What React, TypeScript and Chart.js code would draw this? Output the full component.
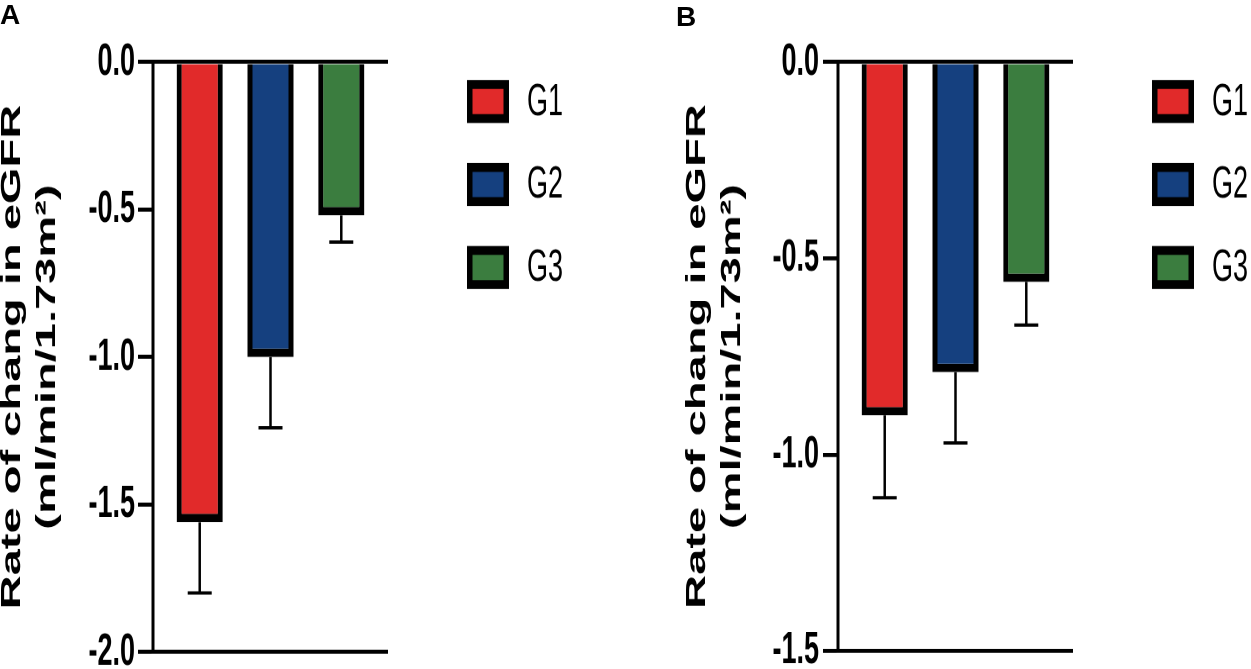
import React, { useEffect, useRef } from 'react';
import { Chart, registerables } from 'chart.js';

Chart.register(...registerables);

// ---- data ----
const groups = ['G1', 'G2', 'G3'];
const groupColors = ['#E12A2A', '#15407F', '#3B7D3F'];

const valuesA = [-1.56, -1.0, -0.52];
const errorsA = [0.24, 0.24, 0.09];
const ticksA = [0, -0.5, -1.0, -1.5, -2.0];

const valuesB = [-0.9, -0.79, -0.56];
const errorsB = [0.21, 0.18, 0.11];
const ticksB = [0, -0.5, -1.0, -1.5];

const axisTitle = ['Rate of chang in eGFR', '(ml/min/1.73m²)'];
const panelLetters = ['A', 'B'];

// ---- layout / style ----
const H = 398; // logical canvas height
const STRETCH = 669 / H; // vertical stretch of the original figure
const FONT = "'Liberation Sans', Arial, sans-serif";

type PanelProps = {
  values: number[];
  errors: number[];
  ticks: number[];
  left: number;
  width: number;
  axisX: number;
  plotRight: number;
  padL: number;
  titlePad: number;
  tickPad: number;
};

function Panel(props: PanelProps) {
  const ref = useRef<HTMLCanvasElement>(null);
  useEffect(() => {
    const { values, errors, ticks, width, axisX, plotRight, padL, titlePad, tickPad } = props;
    const yMin = ticks[ticks.length - 1];
    const yMax = ticks[0];

    const errorBars = {
      id: 'errorBars',
      afterDatasetsDraw(chart: any) {
        const ctx = chart.ctx;
        const xs = chart.scales.x;
        const ys = chart.scales.y;
        ctx.save();
        ctx.strokeStyle = '#000';
        values.forEach((v, i) => {
          const x = xs.getPixelForValue(i + 1);
          const y0 = ys.getPixelForValue(v);
          const y1 = ys.getPixelForValue(v - errors[i]);
          ctx.lineWidth = 2.5;
          ctx.beginPath();
          ctx.moveTo(x, y0);
          ctx.lineTo(x, y1);
          ctx.stroke();
          ctx.lineWidth = 2;
          ctx.beginPath();
          ctx.moveTo(x - 12, y1);
          ctx.lineTo(x + 12, y1);
          ctx.stroke();
        });
        ctx.restore();
      },
    };

    const legendBoxes = {
      id: 'legendBoxes',
      afterDraw(chart: any) {
        const ctx = chart.ctx;
        const area = chart.chartArea;
        const boxLeft = area.right + 79;
        const boxW = 42;
        const boxH = 43 / STRETCH;
        const firstTop = area.top + 10.7;
        const step = 83 / STRETCH;
        const bw = 5.5;
        const bh = 5.3;
        ctx.save();
        groups.forEach((g, i) => {
          const top = firstTop + i * step;
          ctx.fillStyle = '#000';
          ctx.fillRect(boxLeft, top, boxW, boxH);
          ctx.fillStyle = groupColors[i];
          ctx.fillRect(boxLeft + bw, top + bh, boxW - 2 * bw, boxH - 2 * bh);
          ctx.fillStyle = '#000';
          ctx.font = `27px ${FONT}`;
          ctx.textBaseline = 'middle';
          ctx.textAlign = 'left';
          ctx.fillText(g, boxLeft + 60, top + boxH / 2 + 0.5);
        });
        ctx.restore();
      },
    };

    const chart = new Chart(ref.current as HTMLCanvasElement, {
      type: 'bar',
      data: {
        datasets: [
          {
            label: 'groups',
            data: values.map((v, i) => ({ x: i + 1, y: v })),
            backgroundColor: groupColors,
            borderColor: '#000',
            borderWidth: 5,
            borderSkipped: 'start',
            barPercentage: 0.65,
            categoryPercentage: 1,
          } as any,
        ],
      },
      options: {
        responsive: false,
        animation: false,
        devicePixelRatio: 2,
        events: [],
        layout: {
          padding: { left: padL, right: width - plotRight, top: 62 / STRETCH, bottom: H - 652 / STRETCH },
        },
        plugins: {
          legend: { display: false },
          tooltip: { enabled: false },
          title: { display: false },
        },
        scales: {
          x: {
            type: 'linear',
            display: false,
            offset: false,
            grid: { offset: false },
            min: 1 - 0.66,
            max: groups.length + 0.66,
            afterBuildTicks: (s: any) => {
              s.ticks = groups.map((_, i) => ({ value: i + 1 }));
            },
          },
          y: {
            type: 'linear',
            min: yMin,
            max: yMax,
            z: 1,
            afterFit: (s: any) => {
              s.width = axisX - padL;
            },
            afterBuildTicks: (s: any) => {
              s.ticks = ticks.map((v) => ({ value: v }));
            },
            ticks: {
              callback: (v: any) => Number(v).toFixed(1),
              color: '#000',
              padding: tickPad,
              font: { family: FONT, size: 27, weight: 'bold', lineHeight: 0.5 },
            },
            grid: {
              display: true,
              drawOnChartArea: true,
              drawTicks: true,
              tickLength: 15,
              tickWidth: 2.4,
              tickColor: '#000',
              lineWidth: 2.4,
              color: (c: any) =>
                c.tick && (c.tick.value === yMax || c.tick.value === yMin) ? '#000' : 'rgba(0,0,0,0)',
            },
            border: { display: true, color: '#000', width: 3 },
            title: {
              display: true,
              text: axisTitle,
              color: '#000',
              font: { family: FONT, size: 28, weight: 'bold', lineHeight: 1.25 },
              padding: { top: titlePad, bottom: 0 },
            },
          },
        },
      } as any,
      plugins: [errorBars, legendBoxes],
    });
    return () => chart.destroy();
  }, []);

  return (
    <div
      style={{
        position: 'absolute',
        left: props.left,
        top: 0,
        width: props.width,
        height: H,
        transform: `scaleY(${STRETCH})`,
        transformOrigin: '0 0',
      }}
    >
      <canvas ref={ref} width={props.width} height={H} style={{ width: props.width, height: H, display: 'block' }} />
    </div>
  );
}

export default function App() {
  const letterStyle: React.CSSProperties = {
    position: 'absolute',
    fontFamily: FONT,
    fontWeight: 'bold',
    fontSize: 28,
    lineHeight: '28px',
    color: '#000',
  };
  return (
    <div
      style={{
        position: 'absolute',
        left: 0,
        top: 0,
        width: 1251,
        height: 669,
        overflow: 'hidden',
        background: '#fff',
      }}
    >
      <Panel
        values={valuesA}
        errors={errorsA}
        ticks={ticksA}
        left={0}
        width={625}
        axisX={153}
        plotRight={388}
        padL={0}
        titlePad={-5}
        tickPad={3}
      />
      <Panel
        values={valuesB}
        errors={errorsB}
        ticks={ticksB}
        left={626}
        width={625}
        axisX={212}
        plotRight={447}
        padL={54}
        titlePad={0}
        tickPad={4}
      />
      <div style={{ ...letterStyle, left: 0, top: 1 }}>{panelLetters[0]}</div>
      <div style={{ ...letterStyle, left: 676, top: 3 }}>{panelLetters[1]}</div>
    </div>
  );
}
